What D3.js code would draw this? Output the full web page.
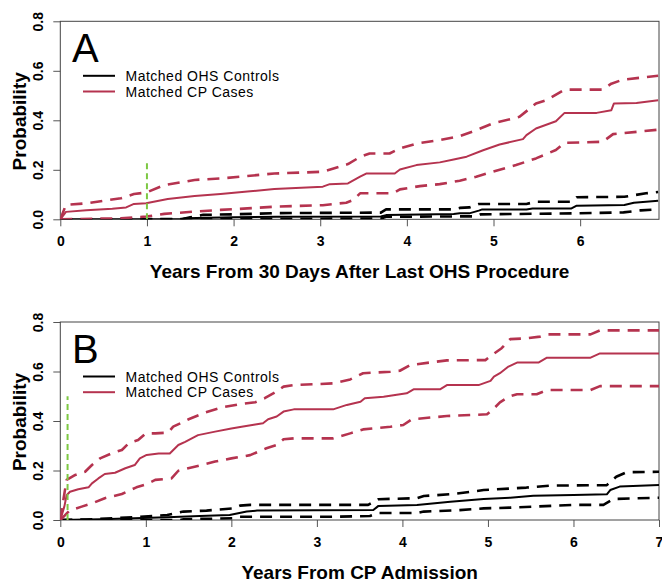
<!DOCTYPE html>
<html>
<head>
<meta charset="utf-8">
<script src="https://cdn.jsdelivr.net/npm/d3@7"></script>
<style>
body { margin: 0; background: #fff; }
svg { display: block; font-family: "Liberation Sans", Arial, sans-serif; }
.tick text { font-weight: bold; font-size: 14px; fill: #000; }
.tick line { stroke: #555; }
.axis_title { font-weight: bold; font-size: 19px; }
.legend_text { font-size: 14px; letter-spacing: 0.5px; }
</style>
</head>
<body>
<div id="content"></div>
<script>
/* Panel A: years from 30 days after last OHS procedure */
var a_cp = [[0,0],[0.065,0.03],[0.3,0.037],[0.6,0.043],[0.76,0.048],[0.85,0.062],[0.99,0.065],[1.24,0.082],[1.55,0.094],[1.85,0.102],[2.16,0.112],[2.47,0.122],[3.03,0.132],[3.11,0.142],[3.32,0.145],[3.46,0.172],[3.53,0.185],[3.86,0.185],[3.92,0.201],[4.11,0.219],[4.38,0.23],[4.54,0.242],[4.69,0.253],[4.88,0.279],[5.07,0.302],[5.34,0.324],[5.38,0.34],[5.49,0.367],[5.72,0.396],[5.82,0.43],[6.19,0.43],[6.36,0.441],[6.39,0.468],[6.65,0.47],[6.9,0.481]];
var a_cp_hi = [[0,0],[0.065,0.058],[0.31,0.065],[0.7,0.085],[0.85,0.102],[0.99,0.108],[1.2,0.138],[1.55,0.159],[1.85,0.165],[2.16,0.175],[2.47,0.185],[3.03,0.192],[3.22,0.212],[3.32,0.223],[3.46,0.252],[3.57,0.266],[3.8,0.266],[3.92,0.286],[4.11,0.306],[4.38,0.32],[4.61,0.336],[4.8,0.36],[4.99,0.387],[5.3,0.414],[5.49,0.468],[5.61,0.481],[5.82,0.524],[6.26,0.524],[6.36,0.548],[6.49,0.564],[6.9,0.58]];
var a_cp_lo = [[0,0],[0.7,0.004],[0.99,0.011],[1.2,0.022],[1.55,0.031],[1.85,0.038],[2.16,0.044],[2.47,0.051],[3.03,0.057],[3.3,0.067],[3.38,0.078],[3.46,0.105],[3.84,0.105],[3.92,0.121],[4.15,0.134],[4.38,0.142],[4.61,0.156],[4.8,0.172],[4.99,0.192],[5.26,0.219],[5.49,0.246],[5.72,0.28],[5.82,0.309],[6.26,0.313],[6.38,0.344],[6.9,0.362]];
var a_ohs = [[0,0],[1.4,0],[1.45,0.004],[1.7,0.006],[2.0,0.008],[2.5,0.01],[3.7,0.011],[3.76,0.017],[4.54,0.021],[4.61,0.024],[4.72,0.024],[4.83,0.035],[4.87,0.04],[5.38,0.04],[5.45,0.044],[5.9,0.044],[5.96,0.055],[6.51,0.058],[6.62,0.067],[6.9,0.075]];
var a_ohs_hi = [[0,0],[1.4,0],[1.5,0.008],[1.65,0.018],[2.0,0.02],[2.5,0.025],[3.7,0.027],[3.76,0.04],[4.54,0.04],[4.61,0.046],[4.72,0.048],[4.83,0.062],[5.38,0.062],[5.49,0.071],[5.9,0.071],[5.96,0.089],[6.51,0.091],[6.76,0.105],[6.9,0.11]];
var a_ohs_lo = [[0,0],[3.7,0.003],[3.76,0.01],[4.8,0.012],[4.85,0.02],[5.96,0.024],[6.5,0.028],[6.7,0.036],[6.9,0.04]];

/* Panel B: years from CP admission */
var b_cp = [[0,0],[0.047,0.054],[0.074,0.1],[0.113,0.114],[0.21,0.124],[0.33,0.132],[0.37,0.148],[0.445,0.168],[0.52,0.186],[0.64,0.191],[0.76,0.209],[0.87,0.222],[0.93,0.249],[1.01,0.263],[1.15,0.269],[1.28,0.269],[1.38,0.303],[1.46,0.316],[1.61,0.343],[1.81,0.357],[2.0,0.37],[2.12,0.377],[2.28,0.386],[2.37,0.391],[2.43,0.407],[2.53,0.418],[2.61,0.438],[2.73,0.447],[3.19,0.447],[3.35,0.465],[3.51,0.478],[3.56,0.492],[3.78,0.498],[4.05,0.512],[4.13,0.528],[4.44,0.528],[4.52,0.545],[4.89,0.545],[5.03,0.562],[5.07,0.579],[5.14,0.593],[5.24,0.62],[5.34,0.636],[5.59,0.636],[5.69,0.656],[6.2,0.656],[6.31,0.673],[7.0,0.673]];
var b_cp_hi = [[0,0],[0.04,0.09],[0.074,0.162],[0.175,0.182],[0.29,0.195],[0.37,0.222],[0.465,0.249],[0.62,0.272],[0.72,0.283],[0.8,0.31],[0.91,0.323],[1.0,0.35],[1.11,0.35],[1.26,0.353],[1.32,0.377],[1.5,0.407],[1.69,0.434],[1.89,0.455],[2.12,0.469],[2.28,0.476],[2.39,0.492],[2.53,0.519],[2.61,0.539],[2.73,0.545],[3.19,0.552],[3.39,0.568],[3.54,0.593],[3.86,0.599],[3.97,0.603],[4.09,0.626],[4.52,0.645],[4.97,0.646],[5.05,0.667],[5.16,0.694],[5.26,0.731],[5.45,0.734],[5.61,0.741],[5.69,0.75],[6.2,0.75],[6.31,0.766],[7.0,0.766]];
var b_cp_lo = [[0,0],[0.1,0.035],[0.15,0.043],[0.25,0.054],[0.37,0.067],[0.52,0.088],[0.72,0.105],[0.89,0.132],[1.01,0.145],[1.11,0.162],[1.3,0.168],[1.38,0.199],[1.57,0.215],[1.81,0.236],[2.0,0.249],[2.22,0.262],[2.41,0.29],[2.53,0.303],[2.61,0.326],[2.73,0.33],[3.19,0.33],[3.39,0.35],[3.54,0.366],[3.86,0.377],[4.01,0.384],[4.11,0.407],[4.52,0.42],[4.99,0.427],[5.05,0.444],[5.14,0.475],[5.24,0.498],[5.34,0.508],[5.57,0.508],[5.69,0.525],[6.2,0.525],[6.31,0.541],[7.0,0.541]];
var b_ohs = [[0,0],[0.47,0.003],[1.25,0.011],[1.63,0.016],[1.98,0.02],[2.18,0.034],[2.3,0.038],[3.66,0.04],[3.72,0.057],[4.17,0.061],[4.29,0.065],[4.56,0.074],[4.95,0.085],[5.26,0.09],[5.53,0.098],[6.0,0.101],[6.39,0.104],[6.43,0.121],[6.54,0.135],[7.0,0.141]];
var b_ohs_hi = [[0,0],[0.3,0.002],[0.85,0.011],[1.25,0.02],[1.44,0.034],[1.71,0.038],[2.02,0.047],[2.1,0.058],[2.22,0.061],[3.6,0.061],[3.72,0.084],[4.17,0.088],[4.25,0.097],[4.6,0.105],[4.95,0.121],[5.45,0.131],[5.73,0.139],[6.39,0.141],[6.5,0.175],[6.62,0.193],[7.0,0.195]];
var b_ohs_lo = [[0,0],[1.4,0],[1.44,0.003],[2.02,0.007],[2.1,0.013],[3.15,0.013],[3.62,0.016],[3.72,0.028],[4.17,0.028],[4.25,0.034],[4.67,0.04],[4.95,0.047],[5.26,0.05],[5.53,0.054],[6.0,0.061],[6.35,0.061],[6.47,0.085],[7.0,0.09]];

var legend_names = ["Matched OHS Controls", "Matched CP Cases"];
var prob_ticks = [0, 0.2, 0.4, 0.6, 0.8];
var a_year_ticks = [0, 1, 2, 3, 4, 5, 6];
var b_year_ticks = [0, 1, 2, 3, 4, 5, 6, 7];
var a_marker = [1, 0.24];     // green dashed line: year, height
var b_marker = [0.085, 0.5];

var red = "#b5334f", green = "#7dc843";

var svg = d3.select("#content").append("svg")
	.attr("width", 662)
	.attr("height", 584);

function draw_panel(id, top, xmax, year_ticks, lines, marker, letter, title){
	var left = 60.3, right = 659, bottom = top + 198;
	var x = d3.scaleLinear().domain([0, xmax]).range([left, right]);
	var y = d3.scaleLinear().domain([0, 0.8]).range([bottom, top]);

	svg.append("clipPath").attr("id", "clip" + id)
		.append("rect")
		.attr("x", left).attr("y", top)
		.attr("width", right - left).attr("height", bottom - top);

	// axes
	var xa = svg.append("g")
		.attr("transform", "translate(0," + bottom + ")")
		.call(d3.axisBottom(x).tickValues(year_ticks).tickFormat(d3.format("d")).tickSize(7).tickPadding(6));
	xa.select(".domain").remove();
	xa.selectAll(".tick text").attr("dy", "1em");

	var ya = svg.append("g")
		.attr("transform", "translate(" + left + ",0)")
		.call(d3.axisLeft(y).tickValues(prob_ticks).tickFormat(d3.format(".1f")).tickSize(7));
	ya.select(".domain").remove();
	ya.selectAll(".tick text")
		.attr("x", 0).attr("dy", 0)
		.attr("text-anchor", "middle")
		.attr("transform", "translate(-17,0) rotate(-90)");

	// plot box
	svg.append("rect")
		.attr("x", left).attr("y", top)
		.attr("width", right - left).attr("height", bottom - top)
		.attr("style", "fill: none; stroke: #444; stroke-width: 1px;");

	var g = svg.append("g").attr("clip-path", "url(#clip" + id + ")");
	var line = d3.line().x(function(d){ return x(d[0]); }).y(function(d){ return y(d[1]); });

	for (var i = 0; i < lines.length; i++){
		g.append("path")
			.attr("d", line(lines[i].data))
			.attr("fill", "none")
			.attr("stroke", lines[i].color)
			.attr("stroke-width", lines[i].dash ? 2.6 : 2)
			.attr("stroke-dasharray", lines[i].dash ? "12,8" : null)
			.attr("stroke-linejoin", "round");
	}

	g.append("line")
		.attr("x1", x(marker[0])).attr("x2", x(marker[0]))
		.attr("y1", y(0)).attr("y2", y(marker[1]))
		.attr("style", "stroke:" + green + "; stroke-width: 2px; stroke-dasharray: 6,4;");

	// panel letter
	svg.append("text")
		.attr("x", 72).attr("y", top + 40.5)
		.attr("style", "font-size: 40px;")
		.text(letter);

	// legend
	var colors = ["#000", red];
	for (var k = 0; k < legend_names.length; k++){
		var ly = top + 54.5 + k * 15.7;
		svg.append("line")
			.attr("x1", 83).attr("x2", 115)
			.attr("y1", ly).attr("y2", ly)
			.attr("style", "stroke:" + colors[k] + "; stroke-width: 2px;");
		svg.append("text")
			.attr("x", 125.5).attr("y", ly + 5)
			.attr("class", "legend_text")
			.text(legend_names[k]);
	}

	svg.append("text")
		.attr("x", (left + right) / 2).attr("y", bottom + 59)
		.attr("text-anchor", "middle")
		.attr("class", "axis_title")
		.text(title);

	svg.append("text")
		.attr("transform", "translate(26," + (top + 100) + ") rotate(-90)")
		.attr("text-anchor", "middle")
		.attr("class", "axis_title")
		.text("Probability");
}

draw_panel("A", 21.3, 6.91, a_year_ticks, [
	{data: a_ohs_lo, color: "#000", dash: true},
	{data: a_ohs_hi, color: "#000", dash: true},
	{data: a_ohs, color: "#000", dash: false},
	{data: a_cp_lo, color: red, dash: true},
	{data: a_cp_hi, color: red, dash: true},
	{data: a_cp, color: red, dash: false}
], a_marker, "A", "Years From 30 Days After Last OHS Procedure");

draw_panel("B", 322, 7, b_year_ticks, [
	{data: b_ohs_lo, color: "#000", dash: true},
	{data: b_ohs_hi, color: "#000", dash: true},
	{data: b_ohs, color: "#000", dash: false},
	{data: b_cp_lo, color: red, dash: true},
	{data: b_cp_hi, color: red, dash: true},
	{data: b_cp, color: red, dash: false}
], b_marker, "B", "Years From CP Admission");
</script>
</body>
</html>
